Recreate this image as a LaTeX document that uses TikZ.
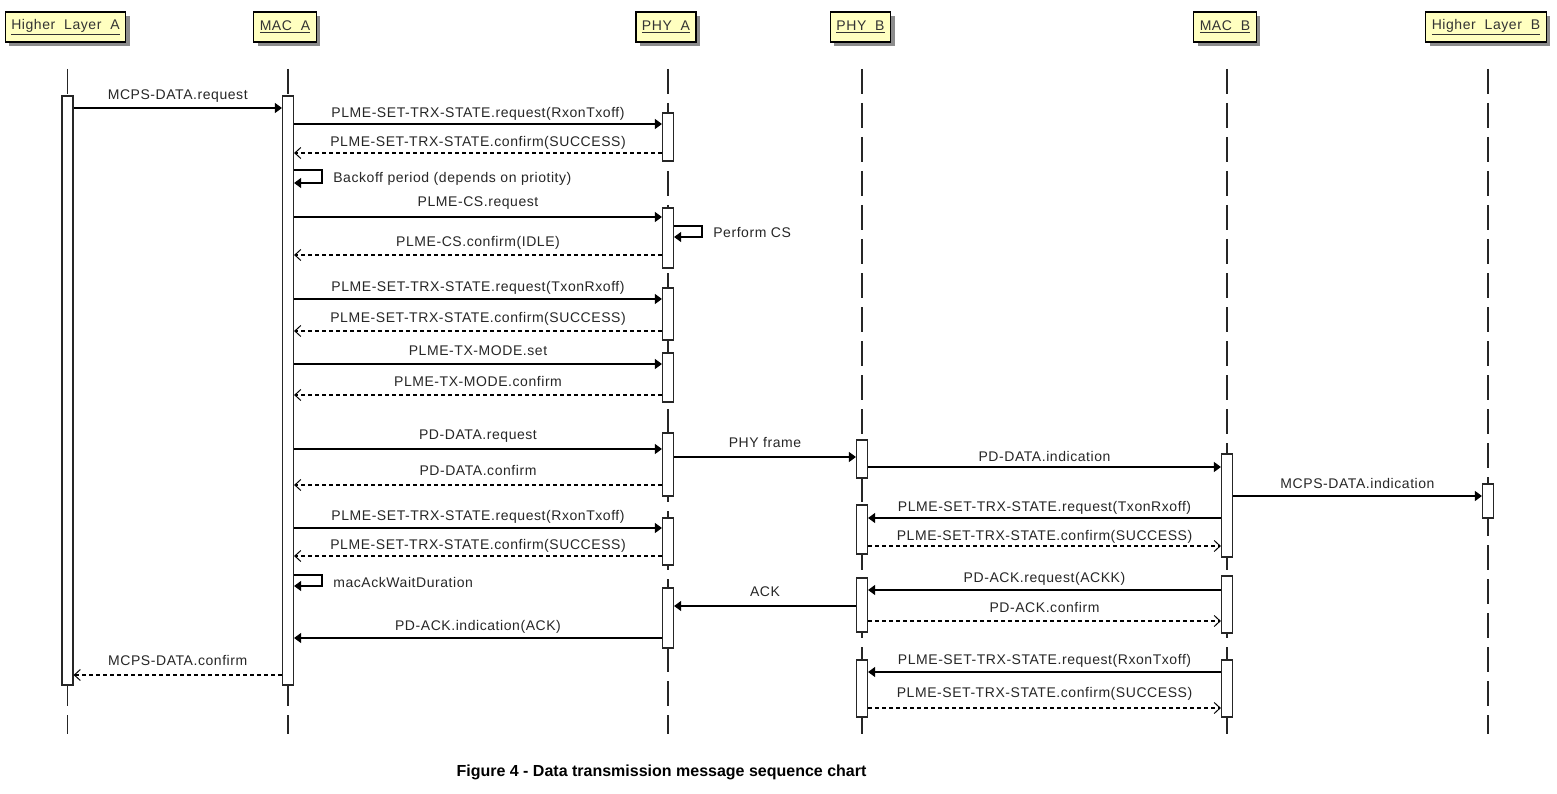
\documentclass[tikz,border=0pt]{standalone}
\usepackage{fontspec}
\setmainfont{Liberation Sans}
\newfontfamily\lblfont[LetterSpace=4]{Liberation Sans}
\usetikzlibrary{arrows.meta,shadows}
\definecolor{hdrfill}{HTML}{FFFFC0}

% activation bar: name, x, top y, bottom y
\newcommand\actbar[4]{\node[actbar, minimum height={(#4-#3)*1pt}] (#1) at (#2,{(#3+#4)/2}) {};}
% message: [label offset]{style}{from}{to}{y}{label}
\newcommand\msg[6][8]{\draw[#2] (#3 |- 0,#5) -- node[lbl, yshift=#1pt] {#6} (#4 |- 0,#5);}
% self message looping back onto the same bar
\newcommand\selfmsg[5]{\draw[req] (#1.east |- 0,#2) -- ++(28,0) -- ++(0,#3-#2) -- (#1.east |- 0,#3);
  \node[lbl, anchor=west] (#4) at ([xshift=39pt]#1.east |- 0,{#3-4}) {#5};}

\begin{document}
\begin{tikzpicture}[x=1pt,y=-1pt,
  lifeline/.style={draw=black!85, line width=1.2pt, dash pattern=on 25pt off 9pt},
  actbar/.style={rectangle, draw=black!85, fill=white, line width=1.2pt, minimum width=11pt, inner sep=0pt},
  header/.style={rectangle, draw=black, line width=1.2pt, fill=hdrfill, minimum height=30pt, inner xsep=6pt,
    font=\lblfont\fontsize{14}{16}\selectfont, text=black!80,
    drop shadow={shadow xshift=4pt, shadow yshift=-4pt, fill=black!45, opacity=1}},
  req/.style={draw=black, line width=1.3pt, -{Triangle[length=7pt,width=10pt]}},
  resp/.style={draw=black, line width=1.1pt, dash pattern=on 4pt off 3pt,
    -{Straight Barb[length=6pt,width=11pt,line width=1pt]}},
  lbl/.style={font=\lblfont\fontsize{14}{16}\selectfont, text=black!85, inner sep=0pt, anchor=base},
]
\useasboundingbox (0,0) rectangle (1557,794);

% participants
\node[header] (hHLA) at (65.5,27) {\underline{Higher\ \ Layer\ \ A}};
\node[header] (hMACA) at (285,27) {\underline{MAC\ \ A}};
\node[header] (hPHYA) at (666,27) {\underline{PHY\ \ A}};
\node[header] (hPHYB) at (860.5,27) {\underline{PHY\ \ B}};
\node[header] (hMACB) at (1225,27) {\underline{MAC\ \ B}};
\node[header] (hHLB) at (1486,27) {\underline{Higher\ \ Layer\ \ B}};

% lifelines
\foreach \n/\x in {HLA/67.5, MACA/288, PHYA/668, PHYB/862, MACB/1227, HLB/1488}{
  \coordinate (l\n) at (\x,69);
  \draw[lifeline] (l\n) -- (l\n |- 0,734);
}

% activation bars
\actbar{a0}{67.5}{96}{685}
\actbar{m0}{288}{96}{685}
\actbar{pa1}{668}{113}{161}
\actbar{pa2}{668}{208}{268}
\actbar{pa3}{668}{288}{340}
\actbar{pa4}{668}{353}{402}
\actbar{pa5}{668}{433}{496}
\actbar{pa6}{668}{518}{565}
\actbar{pa7}{668}{588}{648}
\actbar{pb1}{862}{440}{478}
\actbar{pb2}{862}{505}{554}
\actbar{pb3}{862}{578}{632}
\actbar{pb4}{862}{660}{717}
\actbar{mb1}{1227}{454}{557}
\actbar{mb2}{1227}{576}{633}
\actbar{mb3}{1227}{660}{717}
\actbar{hb1}{1488}{484}{518}

% sender A: channel access and transmission
\msg{req}{a0.east}{m0.west}{108}{MCPS-DATA.request}
\msg[6]{req}{m0.east}{pa1.west}{124}{PLME-SET-TRX-STATE.request(RxonTxoff)}
\msg[6]{resp}{pa1.west}{m0.east}{153}{PLME-SET-TRX-STATE.confirm(SUCCESS)}
\selfmsg{m0}{170}{183}{backoff}{Backoff period (depends on priotity)}
\msg[10]{req}{m0.east}{pa2.west}{217}{PLME-CS.request}
\selfmsg{pa2}{226}{237}{pcs}{Perform CS}
\msg{resp}{pa2.west}{m0.east}{255}{PLME-CS.confirm(IDLE)}
\msg[8]{req}{m0.east}{pa3.west}{299}{PLME-SET-TRX-STATE.request(TxonRxoff)}
\msg[9]{resp}{pa3.west}{m0.east}{331}{PLME-SET-TRX-STATE.confirm(SUCCESS)}
\msg[9]{req}{m0.east}{pa4.west}{364}{PLME-TX-MODE.set}
\msg[9]{resp}{pa4.west}{m0.east}{395}{PLME-TX-MODE.confirm}
\msg[10]{req}{m0.east}{pa5.west}{449}{PD-DATA.request}
\msg[10]{req}{pa5.east}{pb1.west}{457}{PHY frame}
\msg[10]{resp}{pa5.west}{m0.east}{485}{PD-DATA.confirm}

% receiver B
\msg[6]{req}{pb1.east}{mb1.west}{467}{PD-DATA.indication}
\msg{req}{mb1.east}{hb1.west}{496}{MCPS-DATA.indication}
\msg[7]{req}{mb1.west}{pb2.east}{518}{PLME-SET-TRX-STATE.request(TxonRxoff)}
\msg[6]{resp}{pb2.east}{mb1.west}{546}{PLME-SET-TRX-STATE.confirm(SUCCESS)}

% sender A back to receive mode
\msg[8]{req}{m0.east}{pa6.west}{528}{PLME-SET-TRX-STATE.request(RxonTxoff)}
\msg[7]{resp}{pa6.west}{m0.east}{556}{PLME-SET-TRX-STATE.confirm(SUCCESS)}
\selfmsg{m0}{575}{586}{ackwait}{macAckWaitDuration}

% acknowledgement
\msg[8]{req}{mb2.west}{pb3.east}{590}{PD-ACK.request(ACKK)}
\msg[9]{resp}{pb3.east}{mb2.west}{621}{PD-ACK.confirm}
\msg[10]{req}{pb3.west}{pa7.east}{606}{ACK}
\msg[8]{req}{pa7.west}{m0.east}{638}{PD-ACK.indication(ACK)}
\msg[10]{resp}{m0.west}{a0.east}{675}{MCPS-DATA.confirm}
\msg[8]{req}{mb3.west}{pb4.east}{672}{PLME-SET-TRX-STATE.request(RxonTxoff)}
\msg[11]{resp}{pb4.east}{mb3.west}{708}{PLME-SET-TRX-STATE.confirm(SUCCESS)}

% caption
\node[font=\bfseries\fontsize{16}{19}\selectfont, inner sep=0pt] (caption) at (661.5,772)
  {Figure 4 - Data transmission message sequence chart};
\end{tikzpicture}
\end{document}
